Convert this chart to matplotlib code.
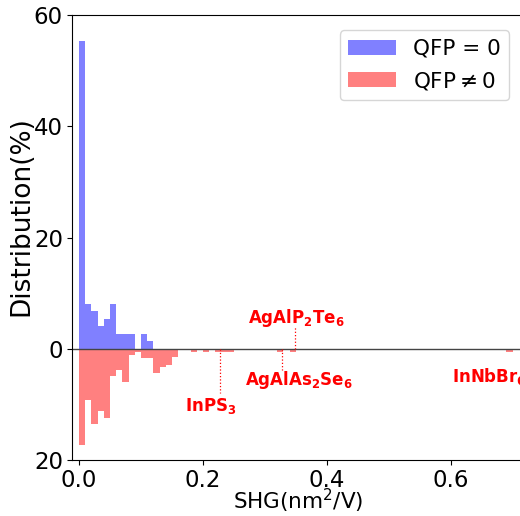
import numpy as np
import matplotlib
matplotlib.use("Agg")
import matplotlib.pyplot as plt
from matplotlib.ticker import FuncFormatter

# histogram bins (lower edge, nm^2/V) and share of compounds in %
bin_width = 0.01
qfp0_bins = [0.00, 0.01, 0.02, 0.03, 0.04, 0.05, 0.06, 0.07, 0.08, 0.10, 0.11]
qfp0_pct = [55.4, 8.1, 6.8, 4.1, 5.4, 8.1, 2.7, 2.7, 2.7, 2.7, 1.35]

qfp1_bins = [0.00, 0.01, 0.02, 0.03, 0.04, 0.05, 0.06, 0.07, 0.08, 0.09,
             0.10, 0.11, 0.12, 0.13, 0.14, 0.15, 0.18, 0.20, 0.22, 0.23,
             0.24, 0.32, 0.34, 0.69]
qfp1_pct = [17.3, 9.2, 13.5, 11.1, 12.4, 4.9, 3.8, 6.0, 1.1, 0.5,
            1.6, 1.6, 4.3, 3.2, 3.0, 1.4, 0.54, 0.54, 0.54, 0.54,
            0.54, 0.54, 0.54, 0.54]

# labelled compounds: (text, SHG value, line end y, text x, text y, ha)
labels = [
    (r"InPS$_\mathbf{3}$", 0.228, -8.0, 0.213, -10.2, "center"),
    (r"AgAlAs$_\mathbf{2}$Se$_\mathbf{6}$", 0.328, -3.8, 0.355, -5.7, "center"),
    (r"AgAlP$_\mathbf{2}$Te$_\mathbf{6}$", 0.348, 3.9, 0.350, 5.6, "center"),
    (r"InNbBr$_\mathbf{6}$", 0.695, 0.0, 0.602, -4.9, "left"),
]

fig = plt.figure(figsize=(5.2, 5.16), dpi=100)
ax = fig.add_axes([0.1385, 0.1085, 0.8615, 0.8624])

ax.bar(qfp0_bins, qfp0_pct, width=bin_width, align="edge",
       color="#8080ff", label="QFP = 0")
ax.bar(qfp1_bins, -np.array(qfp1_pct), width=bin_width, align="edge",
       color="#ff8080", label=r"QFP$\neq$0")
ax.axhline(0, color="#444444", lw=1.0)

for text, xv, yend, tx, ty, ha in labels:
    if yend != 0:
        ax.plot([xv, xv], [0, yend], ls=":", color="red", lw=0.9)
    ax.text(tx, ty, text, color="red", fontsize=12, fontweight="bold",
            ha=ha, va="center")

ax.set_xlim(-0.0113, 0.712)
ax.set_ylim(-20, 60)
ax.set_yticks([-20, 0, 20, 40, 60])
ax.yaxis.set_major_formatter(FuncFormatter(lambda v, p: f"{abs(int(v))}"))
ax.set_xticks([0.0, 0.2, 0.4, 0.6])
ax.tick_params(labelsize=16.5, pad=3)
ax.spines["right"].set_visible(False)

ax.set_xlabel(r"SHG(nm$^2$/V)", fontsize=15.5)
ax.xaxis.set_label_coords(0.505, -0.06)
ax.set_ylabel("Distribution(%)", fontsize=19)
ax.yaxis.set_label_coords(-0.085, 0.548)

leg = ax.legend(loc="upper right", fontsize=15.5, handlelength=2.2,
                bbox_to_anchor=(1.0, 0.99))

fig.savefig("out.png", dpi=100)
